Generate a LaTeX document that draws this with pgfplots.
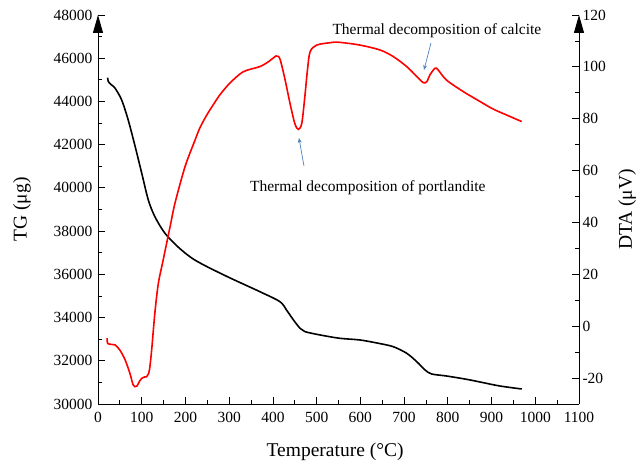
\documentclass[border=0pt]{standalone}
\usepackage{pgfplots}
\pgfplotsset{compat=1.18}
\usetikzlibrary{arrows.meta}
\usepackage{fontspec}
\setmainfont{Liberation Serif}
\definecolor{arrowblue}{RGB}{79,129,189}
\pgfplotstableread{
x tg
22 45100
23.6 44921
30 44780
38.9 44616
54 44074
69 43148
85 41912
100 40681
115 39444
130 38671
153 37903
184 37250
214 36760
245 36400
302 35833
370 35199
416 34736
431 34352
447 33889
462 33504
473 33349
508 33194
553 33040
599 32963
641 32810
675 32653
706 32347
729 31958
748 31574
763 31389
797 31296
843 31142
881 30988
919 30833
969 30694
}\tgdata
\pgfplotstableread{
x dta
21 -4.6
22 -6.6
30 -7.0
39 -7.2
50 -9.2
62 -13.0
73 -18.2
80 -22.5
84 -23.3
89 -23.1
95 -21.2
100 -20.1
106 -19.6
111 -19.5
115 -18.5
118 -16.5
122.7 -9.2
130 5
138 16.5
149 25.5
165 38.5
176 47.4
199 61.5
222 71.8
233 76.5
249 81.5
264 85.5
280 89.5
302 93.8
332 98.1
370 100.1
390 102.0
407 104.2
413 104.0
418 102.0
428 94.9
439 86.0
450 78.2
458 75.9
466 78.2
473 88.5
479 98.8
485 105.8
500 108.4
530 109.3
550 109.5
599 108.4
645 106.5
675 104.0
706 100.1
729 96.3
744 93.9
752 94.3
759 96.9
771 99.5
778 98.8
797 94.9
835 90.5
874 86.6
904 83.7
935 81.4
969 78.9
}\dtadata
\begin{document}
\begin{tikzpicture}
\useasboundingbox (-98bp,-63bp) rectangle (544bp,404bp);
\pgfplotsset{
  common/.style={
    at={(0,0)}, anchor=south west,
    scale only axis, width=481bp, height=389bp,
    xmin=0, xmax=1100,
    clip=false,
    tick align=inside,
    major tick length=7bp, minor tick length=4bp,
    tick style={black, line width=0.8bp},
    axis line style={line width=0.9bp},
    scaled ticks=false,
    /pgf/number format/.cd, 1000 sep={}, assume math mode=true,
    /pgfplots/.cd,
    tick label style={font=\fontsize{15.5bp}{18bp}\selectfont},
    label style={font=\fontsize{19.5bp}{22bp}\selectfont},
  }
}
\begin{axis}[common,
  ymin=30000, ymax=48000,
  axis x line*=bottom, axis y line*=left,
  x axis line style={-},
  y axis line style={-{Triangle[length=18bp,width=10bp]}},
  xtick={0,100,...,1100}, minor x tick num=1,
  ytick={30000,32000,...,48000}, minor y tick num=1,
  xticklabel style={yshift=-5bp},
  yticklabel style={xshift=-2bp},
  xlabel={Temperature (°C)},
  ylabel={TG (μg)},
  xlabel style={at={(axis description cs:0.493,-0.123)}, anchor=center},
  ylabel style={at={(axis description cs:-0.158,0.5)}, anchor=center, rotate=0},
]
\addplot[black, line width=1.6bp, smooth] table[x=x, y=tg] {\tgdata};
\end{axis}
\begin{axis}[common,
  ymin=-30, ymax=120,
  axis x line=none, axis y line*=right,
  y axis line style={-{Triangle[length=18bp,width=10bp]}},
  ytick={-20,0,...,120}, minor y tick num=1,
  ylabel={DTA (μV)},
  ylabel style={at={(axis description cs:1.1,0.5)}, anchor=center, rotate=0},
]
\addplot[red, line width=1.6bp, smooth] table[x=x, y=dta] {\dtadata};
\node[font=\fontsize{15.5bp}{18bp}\selectfont] at (axis cs:775,113.8) {Thermal decomposition of calcite};
\node[font=\fontsize{15.5bp}{18bp}\selectfont] at (axis cs:617,53.3) {Thermal decomposition of portlandite};
\draw[arrowblue, line width=0.7bp, -{Stealth[length=5bp,width=4bp]}] (axis cs:761.5,109.2) -- (axis cs:745.5,98.8);
\draw[arrowblue, line width=0.7bp, -{Stealth[length=5bp,width=4bp]}] (axis cs:471,61.8) -- (axis cs:459.6,72.6);
\end{axis}
\end{tikzpicture}
\end{document}
